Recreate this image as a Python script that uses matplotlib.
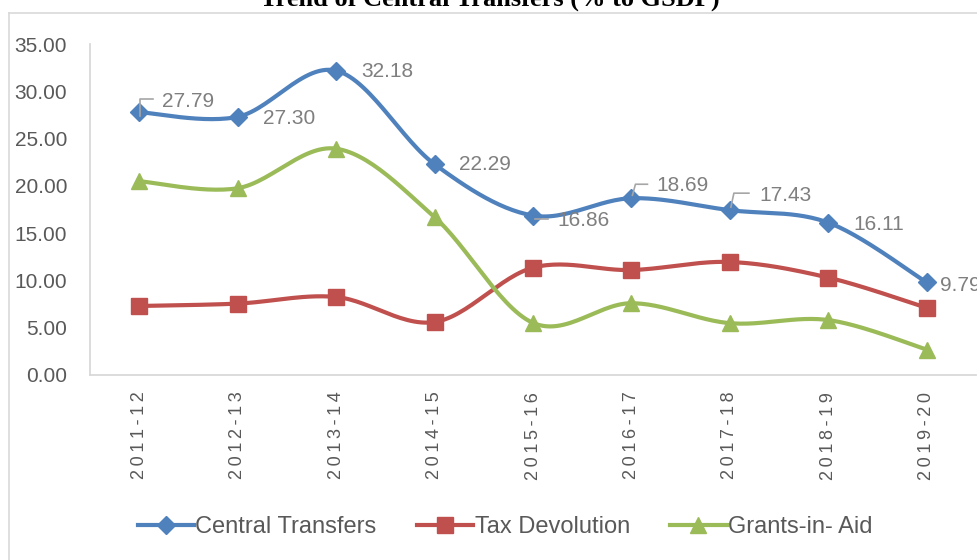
import numpy as np
import matplotlib.pyplot as plt
from matplotlib.lines import Line2D

years = ['2011-12', '2012-13', '2013-14', '2014-15', '2015-16',
         '2016-17', '2017-18', '2018-19', '2019-20']
central = [27.79, 27.30, 32.18, 22.29, 16.86, 18.69, 17.43, 16.11, 9.79]
tax_dev = [7.30, 7.55, 8.25, 5.60, 11.35, 11.10, 11.95, 10.30, 7.10]
grants = [20.49, 19.75, 23.93, 16.69, 5.51, 7.59, 5.48, 5.81, 2.69]

blue, red, green = '#4F81BD', '#C0504D', '#9BBB59'
grey_txt = '#595959'
lab_txt = '#7F7F7F'
sans = ['Liberation Sans', 'DejaVu Sans']


def smooth(vals, n=30):
    # excel-like smoothed line (catmull-rom between the points)
    p = np.array(vals, dtype=float)
    x = np.arange(len(p), dtype=float)
    xs, ys = [], []
    for i in range(len(p) - 1):
        p0 = p[i - 1] if i > 0 else p[i]
        p3 = p[i + 2] if i + 2 < len(p) else p[i + 1]
        x0 = x[i - 1] if i > 0 else x[i]
        x3 = x[i + 2] if i + 2 < len(p) else x[i + 1]
        t = np.linspace(0, 1, n)
        c1y = p[i] + (p[i + 1] - p0) / 6.
        c2y = p[i + 1] - (p3 - p[i]) / 6.
        c1x = x[i] + (x[i + 1] - x0) / 6.
        c2x = x[i + 1] - (x3 - x[i]) / 6.
        b = [(1 - t) ** 3, 3 * (1 - t) ** 2 * t, 3 * (1 - t) * t ** 2, t ** 3]
        xs.append(b[0] * x[i] + b[1] * c1x + b[2] * c2x + b[3] * x[i + 1])
        ys.append(b[0] * p[i] + b[1] * c1y + b[2] * c2y + b[3] * p[i + 1])
    return np.concatenate(xs), np.concatenate(ys)


fig = plt.figure(figsize=(9.77, 5.6), dpi=100)
W, H = 977., 560.
ax = fig.add_axes([90 / W, 1 - 375 / H, (976 - 90) / W, (375 - 44) / H])

# outer chart frame (partly cut off in the source)
fig.add_artist(Line2D([9 / W, 9 / W], [0, 1 - 13 / H], color='#D9D9D9', lw=1.2,
                      transform=fig.transFigure))
fig.add_artist(Line2D([9 / W, 1], [1 - 13 / H, 1 - 13 / H], color='#D9D9D9', lw=1.2,
                      transform=fig.transFigure))

fig.text(490 / W, 1 - 6 / H, 'Trend of Central Transfers (% to GSDP)',
         ha='center', va='baseline', family='Liberation Serif',
         weight='bold', size=19, color='black')

x = np.arange(len(years))
series = [(central, blue, 'D', 9.5, 'Central Transfers'),
          (tax_dev, red, 's', 11, 'Tax Devolution'),
          (grants, green, '^', 12, 'Grants-in- Aid')]
handles = []
for vals, col, mk, ms, name in series:
    sx, sy = smooth(vals)
    ax.plot(sx, sy, color=col, lw=3, solid_capstyle='round', zorder=2)
    ax.plot(x, vals, ls='none', marker=mk, ms=ms, color=col, zorder=3)
    handles.append(Line2D([], [], color=col, lw=3, marker=mk, ms=ms, label=name))

ax.set_xlim(-0.5, len(years) - 0.5)
ax.set_ylim(0, 35)
ax.set_yticks(np.arange(0, 35.1, 5))
ax.set_yticklabels(['%.2f' % v for v in np.arange(0, 35.1, 5)])
ax.set_xticks(x)
ax.set_xticklabels(['\u2009'.join(y) for y in years], rotation=90, va='top')
ax.tick_params(axis='y', length=0, pad=16.5, labelsize=15, labelcolor=grey_txt)
ax.tick_params(axis='x', length=0, pad=12, labelsize=13, labelcolor=grey_txt)
for lbl in ax.get_xticklabels() + ax.get_yticklabels():
    lbl.set_family(sans)
for s in ['top', 'right']:
    ax.spines[s].set_visible(False)
for s in ['left', 'bottom']:
    ax.spines[s].set_color('#D9D9D9')
    ax.spines[s].set_linewidth(1.3)

# data labels for central transfers (pixel offsets from the marker)
lab_off = [(23, 11), (25, -2), (25, -1), (24, 0), (24, -5),
           (25, 13), (29, 15), (25, -2), (13, -3)]
leaders = {0: [(1, -4), (1, 13), (14, 13)],
           4: [(2, -3), (15, -3)],
           5: [(1, 3), (4, 14), (16, 14)],
           6: [(1, 3), (4, 17), (19, 17)]}
fig.canvas.draw()
for i, v in enumerate(central):
    ax.annotate('%.2f' % v, (i, v), xytext=lab_off[i], textcoords='offset pixels',
                ha='left', va='center', size=15, color=lab_txt, family=sans,
                annotation_clip=False, zorder=4)
    if i in leaders:
        px, py = ax.transData.transform((i, v))
        pts = np.array([(px + dx, py + dy) for dx, dy in leaders[i]])
        fig.add_artist(Line2D(pts[:, 0], pts[:, 1], color='#A6A6A6', lw=1.2,
                              transform=None, zorder=1))

fig.legend(handles=handles, loc='center', bbox_to_anchor=(505 / W, 1 - 527 / H),
           ncol=3, frameon=False, handlelength=2.4, columnspacing=1.7,
           handletextpad=0.05, prop={'family': sans, 'size': 17},
           labelcolor=grey_txt)

fig.savefig('out.png', dpi=100)
